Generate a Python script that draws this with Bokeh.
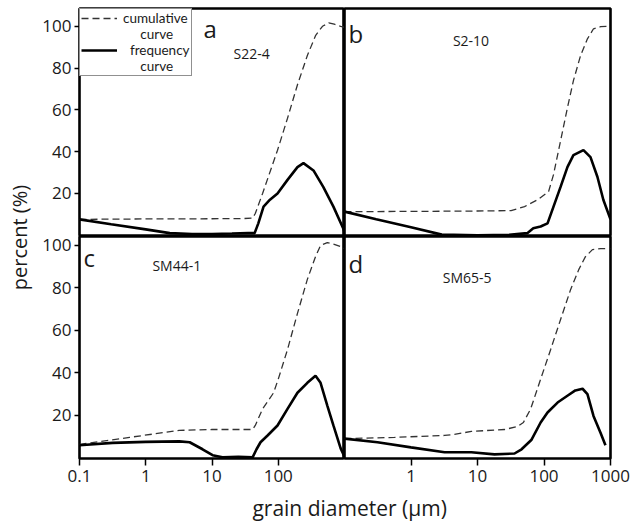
import math
from bokeh.plotting import figure
from bokeh.models import Range1d, FixedTicker, Label, Legend, LegendItem, CustomJSTickFormatter
from bokeh.layouts import row, column
from bokeh.embed import file_html
from bokeh.resources import INLINE

FONT = "Open Sans"
LEG_FONT = "Lato"
TXT = "#1a1a1a"
NB = "\u00a0"

LETTERS = ["a", "b", "c", "d"]
SAMPLES = ["S22-4", "S2-10", "SM44-1", "SM65-5"]
LEGEND_LABELS = ["cumulative", NB * 5 + "curve", NB * 2 + "frequency", NB * 5 + "curve"]
Y_LABEL = "percent (%)"
X_LABEL = "grain diameter (µm)"
Y_TICKS = [20, 40, 60, 80, 100]
X_TICKS_C = [0.1, 1, 10, 100]
X_TICKS_D = [1, 10, 100, 1000]

# panel a (S22-4)
A_CUM_X = [0.1, 0.3, 1, 3, 10, 30, 41, 45, 58, 97.5, 138, 195, 275, 365, 465, 578, 700, 875, 1000]
A_CUM_Y = [7.6, 7.7, 7.8, 7.8, 7.9, 8.0, 8.2, 10.4, 20, 40.7, 56, 72, 86, 95.5, 100, 101.6, 101, 100, 99.5]
A_FRQ_X = [0.1, 0.3, 1, 2.3, 5, 10, 20, 35, 44, 50, 60, 75, 97.5, 138, 195, 240, 340, 480, 680, 965, 1000]
A_FRQ_Y = [7.6, 5.3, 2.8, 1.0, 0.6, 0.6, 0.8, 1.0, 1.0, 5.7, 13.7, 17, 20, 26.5, 32.6, 34.5, 31, 23, 13.7, 3, 1.5]

# panel b (S2-10)
B_CUM_X = [0.1, 1, 10, 32, 51, 80, 117, 139, 177, 225, 277, 355, 450, 555, 710, 1000]
B_CUM_Y = [11.3, 11.4, 11.6, 11.8, 13.7, 17.0, 20.8, 29, 45, 61, 74, 86, 94, 98.8, 99.8, 100]
B_FRQ_X = [0.1, 0.3, 1, 2.9, 10, 30, 56, 69, 89, 113, 139, 177, 225, 277, 392, 500, 635, 780, 1000]
B_FRQ_Y = [11.3, 7.7, 3.8, 0.3, 0.0, 0.2, 1.0, 3.3, 4.2, 5.7, 13.7, 23, 32.6, 38.3, 40.7, 37.4, 28, 17, 7.6]

# panel c (SM44-1)
C_CUM_X = [0.1, 0.57, 3.2, 10, 41, 45, 58, 85, 100, 138, 195, 275, 365, 435, 550, 700, 875, 1000]
C_CUM_Y = [6.3, 9.6, 12.9, 13.3, 13.3, 15.2, 23, 30.6, 37, 51, 68, 84, 94.7, 100, 101.3, 100.5, 99.4, 98.5]
C_FRQ_X = [0.1, 0.316, 1, 3.2, 4.6, 7.2, 10.2, 14.4, 25, 41, 47, 54, 69, 97.5, 138, 195, 275, 365, 435, 550, 680, 875, 1000]
C_FRQ_Y = [5.9, 7.0, 7.5, 7.7, 7.3, 4.0, 1.2, 0.2, 0.5, 0.2, 4.0, 7.3, 10.5, 15.2, 23, 30.6, 35.3, 38.6, 35.3, 24.6, 15.2, 4.4, 0.5]

# panel d (SM65-5)
D_CUM_X = [0.1, 0.565, 3.2, 4.5, 8.1, 25.5, 40, 49, 63, 89, 126, 177, 250, 333, 420, 535, 710, 1000]
D_CUM_Y = [9, 9.6, 10.5, 11, 12.4, 13.3, 14.7, 16.6, 23, 37, 51, 65, 79, 88.6, 94.7, 98, 98.5, 98.5]
D_FRQ_X = [0.1, 0.313, 1.0, 3.2, 8.1, 18, 36, 46, 65, 89, 113, 160, 225, 296, 380, 450, 555, 710, 840]
D_FRQ_Y = [9, 7.3, 4.9, 2.6, 2.6, 1.6, 2.0, 4.0, 8.5, 16.6, 21.3, 26, 29.2, 31.7, 32.5, 30, 19.7, 11.7, 5.9]

# label anchor positions (data units of each panel)
LETTER_POS = [(7.45, 99), (0.115, 96.7), (0.115, 94.4), (0.115, 91.6)]
SAMPLE_POS = [(21.1, 87.2), (4.27, 93.4), (1.26, 90.6), (3.0, 85.1)]

FRAME_W_L = 265
FRAME_W_R = 266
LEFT_B = 45
RIGHT_B = 22
TOP_B = 8
TOP_FRAME_H = 228
BOT_FRAME_H = 222
BOT_B = 32
OVERLAP = 12
YLAB_W = 34
XLAB_H = 31

TOP_YR = (-0.6, 108.5)
BOT_YR = (-0.35, 104.2)
XR = (0.1, 1000)


def make_panel(i, cx, cy, fx, fy, left, bottom, top_row):
    yr = TOP_YR if top_row else BOT_YR
    w = (FRAME_W_L + LEFT_B) if left else (FRAME_W_R + RIGHT_B)
    h = (TOP_FRAME_H + TOP_B) if top_row else (BOT_FRAME_H + BOT_B + OVERLAP)
    p = figure(width=w, height=h, x_axis_type="log",
               x_range=Range1d(*XR), y_range=Range1d(*yr),
               x_axis_location="below" if bottom else None,
               y_axis_location="left" if left else None,
               toolbar_location=None, output_backend="svg",
               min_border_left=LEFT_B if left else 0,
               min_border_right=0 if left else RIGHT_B,
               min_border_top=TOP_B if top_row else OVERLAP,
               min_border_bottom=BOT_B if bottom else 0)
    p.outline_line_color = "black"
    p.outline_line_width = 2.6
    p.background_fill_color = "white"
    if top_row:
        p.border_fill_color = "white"
    else:
        p.border_fill_alpha = 0.0
        p.margin = (-OVERLAP, 0, 0, 0)
    p.xgrid.visible = False
    p.ygrid.visible = False
    if left:
        ax = p.yaxis[0]
        ax.ticker = FixedTicker(ticks=Y_TICKS)
        ax.axis_line_color = None
        ax.major_tick_line_color = "black"
        ax.major_tick_line_width = 1.5
        ax.major_tick_out = 5
        ax.major_tick_in = 0
        ax.minor_tick_line_color = None
        ax.major_label_standoff = 3
        ax.major_label_text_font = FONT
        ax.major_label_text_font_size = "17px"
        ax.major_label_text_color = TXT
    if bottom:
        ax = p.xaxis[0]
        ax.ticker = FixedTicker(ticks=X_TICKS_C if left else X_TICKS_D)
        ax.formatter = CustomJSTickFormatter(code="return tick.toString();")
        ax.axis_line_color = None
        ax.major_tick_line_color = "black"
        ax.major_tick_line_width = 1.5
        ax.major_tick_out = 7
        ax.major_tick_in = 0
        ax.minor_tick_line_color = None
        ax.major_label_standoff = 4
        ax.major_label_text_font = FONT
        ax.major_label_text_font_size = "17px"
        ax.major_label_text_color = TXT
    r_cum = p.line(cx, cy, line_color="#333333", line_width=1.3, line_dash="7 4")
    r_frq = p.line(fx, fy, line_color="black", line_width=2.6)
    lx, ly = LETTER_POS[i]
    p.add_layout(Label(x=lx, y=ly, text=LETTERS[i], text_font=FONT, text_font_size="24px",
                       text_color=TXT, text_baseline="alphabetic"))
    sx, sy = SAMPLE_POS[i]
    p.add_layout(Label(x=sx, y=sy, text=SAMPLES[i], text_font=FONT, text_font_size="14px",
                       text_color=TXT, text_baseline="alphabetic"))
    return p, r_cum, r_frq


pa, ra_c, ra_f = make_panel(0, A_CUM_X, A_CUM_Y, A_FRQ_X, A_FRQ_Y, True, False, True)
pb, _, _ = make_panel(1, B_CUM_X, B_CUM_Y, B_FRQ_X, B_FRQ_Y, False, False, True)
pc, _, _ = make_panel(2, C_CUM_X, C_CUM_Y, C_FRQ_X, C_FRQ_Y, True, True, False)
pd_, _, _ = make_panel(3, D_CUM_X, D_CUM_Y, D_FRQ_X, D_FRQ_Y, False, True, False)

# blank legend rows (second line of each two-line legend label)
ghost = pa.line([], [], line_alpha=0.0)

legend = Legend(items=[LegendItem(label=LEGEND_LABELS[0], renderers=[ra_c]),
                       LegendItem(label=LEGEND_LABELS[1], renderers=[ghost]),
                       LegendItem(label=LEGEND_LABELS[2], renderers=[ra_f]),
                       LegendItem(label=LEGEND_LABELS[3], renderers=[ghost])],
                location="top_left")
legend.margin = 0
legend.padding = 1
legend.spacing = 0
legend.glyph_width = 36
legend.glyph_height = 12
legend.label_height = 12
legend.label_standoff = 6
legend.border_line_color = "#222222"
legend.border_line_width = 1.2
legend.background_fill_alpha = 1.0
legend.label_text_font = LEG_FONT
legend.label_text_font_size = "13.5px"
legend.label_text_color = TXT
pa.add_layout(legend)

panels_w = LEFT_B + FRAME_W_L + FRAME_W_R + RIGHT_B
ylab = figure(width=YLAB_W, height=2 * 237, x_range=Range1d(0, 1), y_range=Range1d(0, 1),
              x_axis_location=None, y_axis_location=None, toolbar_location=None,
              output_backend="svg", min_border=0, outline_line_color=None)
ylab.xgrid.visible = False
ylab.ygrid.visible = False
ylab.add_layout(Label(x=0.56, y=0.5, text=Y_LABEL, angle=math.pi / 2, text_align="center",
                      text_baseline="middle", text_font=FONT, text_font_size="20px", text_color=TXT))

xlab = figure(width=panels_w, height=XLAB_H, x_range=Range1d(0, 1), y_range=Range1d(0, 1),
              x_axis_location=None, y_axis_location=None, toolbar_location=None,
              output_backend="svg", min_border=0, outline_line_color=None)
xlab.xgrid.visible = False
xlab.ygrid.visible = False
xlab.add_layout(Label(x=0.527, y=0.45, text=X_LABEL, text_align="center",
                      text_baseline="middle", text_font=FONT, text_font_size="21px", text_color=TXT))

layout = row(ylab, column(row(pa, pb, spacing=0), row(pc, pd_, spacing=0), xlab, spacing=0), spacing=0)

open("out.html", "w").write(file_html(layout, INLINE))
